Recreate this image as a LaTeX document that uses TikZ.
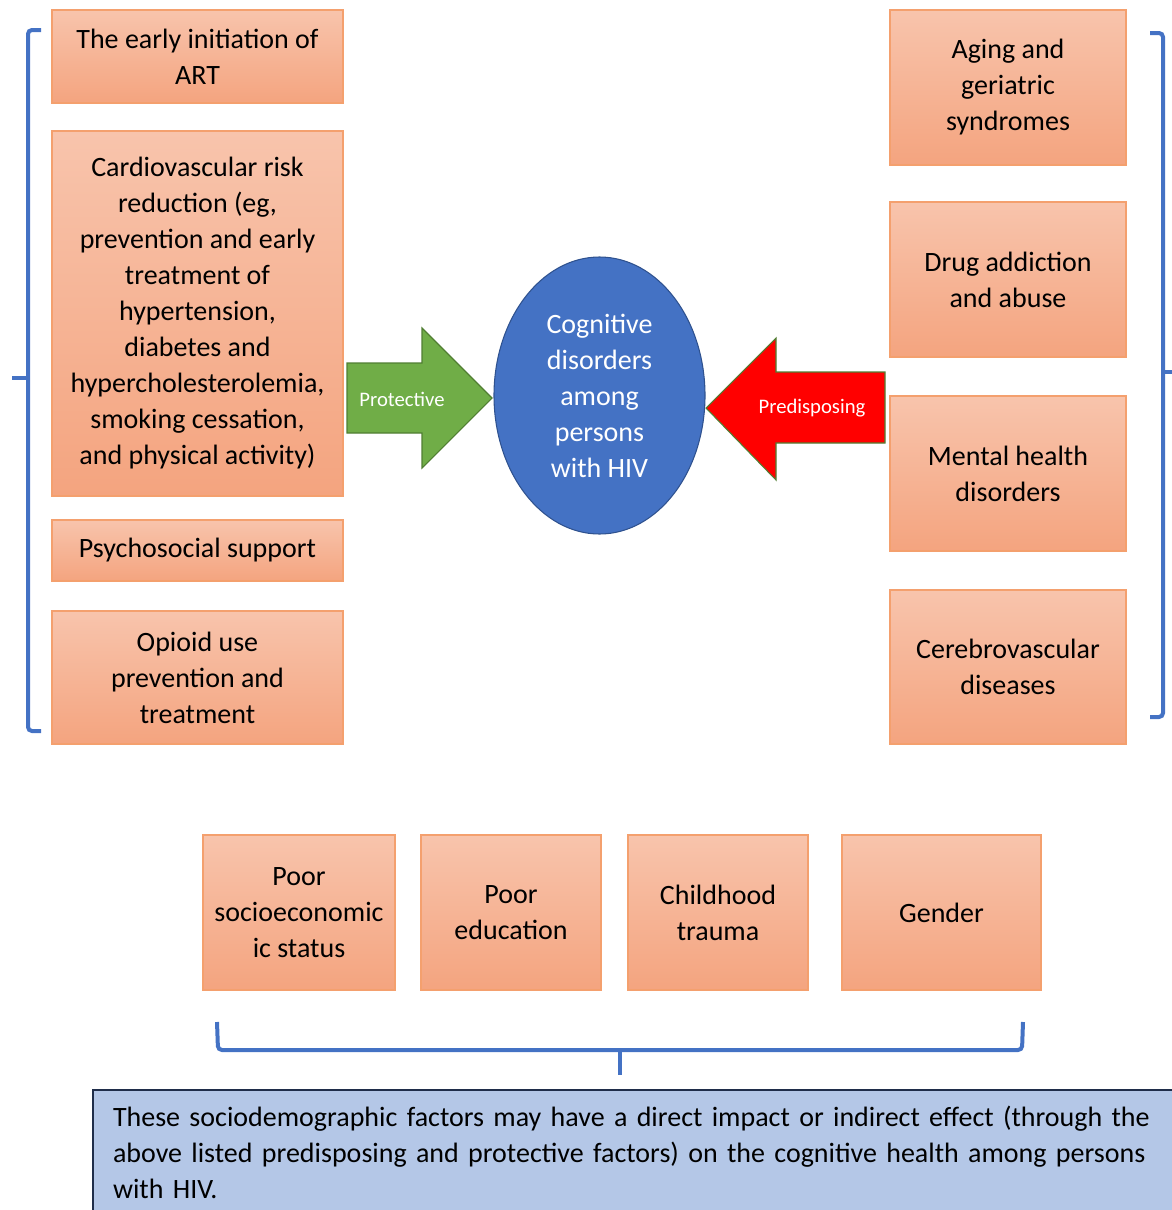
\documentclass[tikz,border=0pt]{standalone}
\usepackage{fontspec}
\setmainfont{Carlito}
\usetikzlibrary{shapes.geometric}
\definecolor{boxtop}{HTML}{F8C4AC}
\definecolor{boxbottom}{HTML}{F4A47F}
\definecolor{boxline}{HTML}{F4A06E}
\definecolor{hivblue}{HTML}{4472C4}
\definecolor{hivline}{HTML}{2F528F}
\definecolor{protgreen}{HTML}{70AD47}
\definecolor{protline}{HTML}{507E32}
\definecolor{notefill}{HTML}{B4C7E7}
\definecolor{noteline}{HTML}{1F2D4A}

\begin{document}
\begin{tikzpicture}[x=0.75pt,y=-0.75pt]

% Define block styles
\tikzstyle{factor}=[draw=boxline, line width=0.8pt, top color=boxtop,
  bottom color=boxbottom, align=center, inner sep=2pt,
  font=\fontsize{21}{27}\selectfont]
\tikzstyle{leftbox}=[factor, minimum width=218.25pt]
\tikzstyle{rightbox}=[factor, minimum width=177pt, minimum height=116.25pt]
\tikzstyle{socialbox}=[factor, minimum height=116.25pt]
\tikzstyle{bracket}=[draw=hivblue, line width=3pt, rounded corners=3pt]
\tikzstyle{arrowtext}=[text=white, font=\fontsize{15.5}{18}\selectfont]

\useasboundingbox (0,0) rectangle (1171,1210);

% Protective factors
\node (early) [leftbox, minimum height=69.75pt] at (197.5,56.5)
  {The early initiation of\\ART};
\node (cardio) [leftbox, minimum height=273.75pt] at (197.5,313.5)
  {Cardiovascular risk\\reduction (eg,\\prevention and early\\treatment of\\%
   hypertension,\\diabetes and\\hypercholesterolemia,\\smoking cessation,\\%
   and physical activity)};
\node (psycho) [leftbox, minimum height=45.75pt] at (197.5,550.5)
  {Psychosocial support};
\node (opioid) [leftbox, minimum height=99.75pt] at (197.5,677.5)
  {Opioid use\\prevention and\\treatment};

% Predisposing factors
\node (aging) [rightbox] at (1008,87.5) {Aging and\\geriatric\\syndromes};
\node (drug) [rightbox] at (1008,279.5) {Drug addiction\\and abuse};
\node (mental) [rightbox] at (1008,473.5) {Mental health\\disorders};
\node (cerebro) [rightbox, minimum height=115.5pt] at (1008,667)
  {Cerebrovascular\\diseases};

% Centre
\node (hiv) [ellipse, draw=hivline, line width=0.8pt, fill=hivblue,
  minimum width=158.25pt, minimum height=207.75pt, inner sep=0pt,
  text=white, align=center, font=\fontsize{21}{27}\selectfont]
  at (599.5,395.5) {Cognitive\\disorders\\among\\persons\\with HIV};

% Block arrows
\path[draw=protline, line width=0.8pt, fill=protgreen]
  (347,363) -- (422,363) -- (422,328) -- (492,398) -- (422,468)
  -- (422,433) -- (347,433) -- cycle;
\node (prot) [arrowtext] at (402,399) {Protective};
\path[draw=protline, line width=0.8pt, fill=red]
  (885,372) -- (776,372) -- (776,338) -- (706,408) -- (776,480)
  -- (776,443) -- (885,443) -- cycle;
\node (pred) [arrowtext] at (812,408) {Predisposing};

% Sociodemographic factors
\node (socio) [socialbox, minimum width=144pt] at (299,912.5)
  {Poor\\socioeconomic\\ic status};
\node (edu) [socialbox, minimum width=135pt] at (511,912.5)
  {Poor\\education};
\node (trauma) [socialbox, minimum width=135pt] at (718,912.5)
  {Childhood\\trauma};
\node (gender) [socialbox, minimum width=149.25pt] at (941.5,912.5)
  {Gender};

% Brackets
\path[bracket] (41,30) -- (28,30) -- (28,731) -- (41,731);
\path[bracket] (28,378) -- (12,378);
\path[bracket] (1150,33) -- (1163,33) -- (1163,717) -- (1150,717);
\path[bracket] (1163,372) -- (1175,372);
\path[bracket] (217,1022) -- (218,1050) -- (1022,1050) -- (1023,1022);
\path[bracket] (620,1050) -- (620,1075);

% Note
\node (note) [anchor=north west, draw=noteline, line width=1.5pt,
  fill=notefill, text width=800pt, text depth=70pt, align=left,
  inner xsep=15pt, inner ysep=12pt, font=\fontsize{21}{27}\selectfont]
  at (92,1089)
  {These sociodemographic factors may have a direct impact or indirect effect (through the\\
   above listed predisposing and protective factors) on the cognitive health among persons\\
   with HIV.};

\end{tikzpicture}
\end{document}
